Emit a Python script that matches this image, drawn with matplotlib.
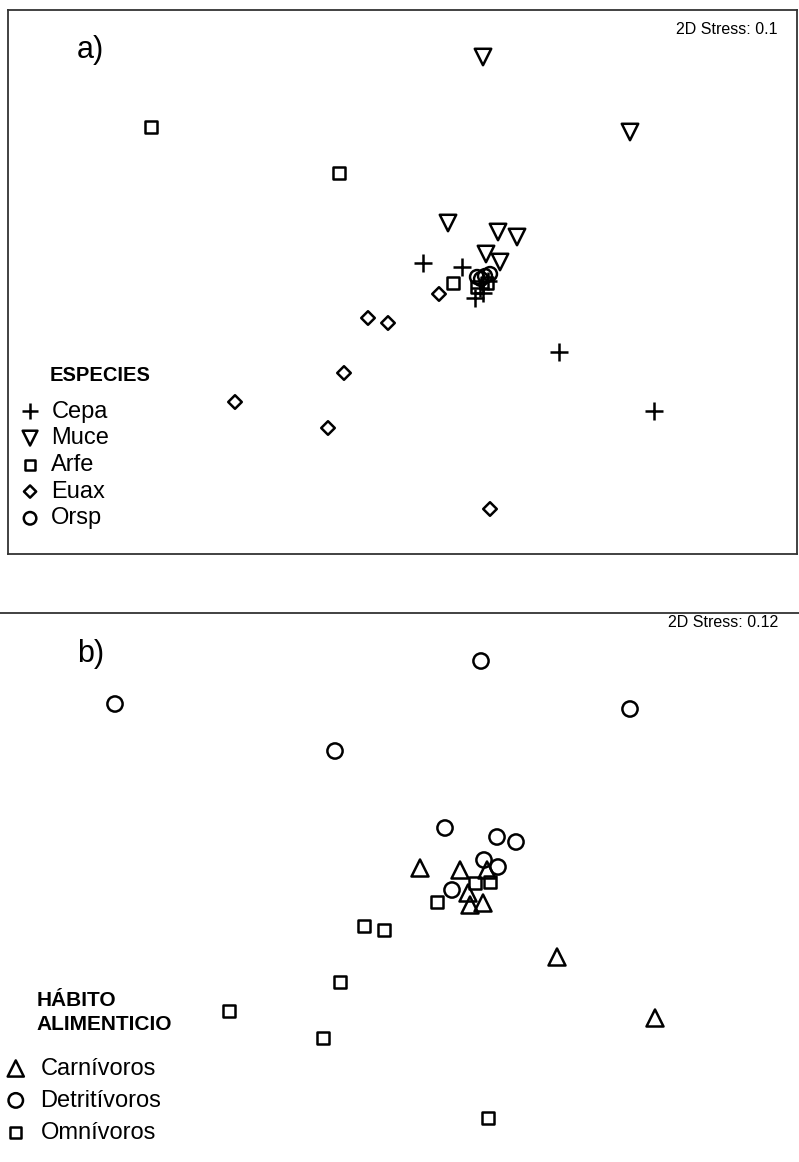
import numpy as np
import matplotlib.pyplot as plt

plt.rcParams['font.family'] = ['Liberation Sans', 'DejaVu Sans']

# a) MDS coordinates by species
cepa_x = [-0.57, -0.18, -0.05, 0.03, 0.00, 0.08, 0.79, 1.74]
cepa_y = [0.27, 0.23, -0.08, -0.03, 0.02, 0.09, -0.62, -1.21]
muce_x = [0.03, 1.50, -0.32, 0.18, 0.37, 0.06, 0.20]
muce_y = [2.33, 1.58, 0.67, 0.58, 0.53, 0.36, 0.28]
arfe_x = [-3.29, -1.41, -0.27, -0.03, 0.07]
arfe_y = [1.63, 1.17, 0.07, 0.03, 0.07]
euax_x = [-0.41, -1.12, -0.92, -1.36, -2.45, -1.52, 0.10]
euax_y = [-0.04, -0.28, -0.33, -0.83, -1.12, -1.38, -2.19]
orsp_x = [-0.03, 0.05, 0.10, 0.01]
orsp_y = [0.13, 0.14, 0.16, 0.11]

# b) MDS coordinates by feeding habit
carn_x = [-0.60, -0.20, 0.07, -0.12, -0.10, 0.03, 0.77, 1.75]
carn_y = [0.27, 0.25, 0.25, 0.02, -0.10, -0.08, -0.62, -1.23]
detr_x = [0.01, -3.65, 1.50, -1.45, -0.35, 0.17, 0.36, 0.04, 0.18, -0.28]
detr_y = [2.34, 1.91, 1.86, 1.44, 0.67, 0.58, 0.53, 0.35, 0.28, 0.05]
omni_x = [-0.05, 0.10, -0.43, -1.16, -0.96, -1.40, -2.51, -1.57, 0.08]
omni_y = [0.12, 0.13, -0.07, -0.31, -0.35, -0.87, -1.16, -1.43, -2.23]

fig = plt.figure(figsize=(7.99, 11.62), dpi=100)
ax1 = fig.add_axes([8/799, 608/1162, 789/799, 544/1162])
ax2 = fig.add_axes([0, 0, 1, 549/1162])

frame = '#333333'
lw = 1.8

def style(ax):
  ax.set_xticks([])
  ax.set_yticks([])
  for s in ax.spines.values():
    s.set_color(frame)
    s.set_linewidth(1.3)

# panel a
style(ax1)
ax1.scatter(cepa_x, cepa_y, marker='+', s=170, c='black', linewidths=lw, label='Cepa')
ax1.scatter(muce_x, muce_y, marker='v', s=140, facecolors='none', edgecolors='black', linewidths=lw, label='Muce')
ax1.scatter(arfe_x, arfe_y, marker='s', s=65, facecolors='none', edgecolors='black', linewidths=lw, label='Arfe')
ax1.scatter(euax_x, euax_y, marker='D', s=48, facecolors='none', edgecolors='black', linewidths=lw, label='Euax')
ax1.scatter(orsp_x, orsp_y, marker='o', s=100, facecolors='none', edgecolors='black', linewidths=lw, label='Orsp')
ax1.set_xlim(-4.72, 3.17)
ax1.set_ylim(-2.64, 2.80)
ax1.text(0.0875, 0.926, 'a)', transform=ax1.transAxes, fontsize=22, va='center')
ax1.text(0.975, 0.965, '2D Stress: 0.1', transform=ax1.transAxes, fontsize=11.5, ha='right', va='center')
ax1.text(0.053, 0.329, 'ESPECIES', transform=ax1.transAxes, fontsize=14.5, fontweight='bold', va='center')
ax1.legend(loc='upper left', bbox_to_anchor=(0.013, 0.282), frameon=False, fontsize=17,
           markerscale=0.9, handlelength=1.0, handletextpad=0.4, labelspacing=0.2,
           borderpad=0, borderaxespad=0)

# panel b
style(ax2)
for k in ['left', 'right', 'bottom']:
  ax2.spines[k].set_visible(False)
ax2.scatter(carn_x, carn_y, marker='^', s=150, facecolors='none', edgecolors='black', linewidths=lw, label='Carnívoros')
ax2.scatter(detr_x, detr_y, marker='o', s=120, facecolors='none', edgecolors='black', linewidths=lw, label='Detritívoros')
ax2.scatter(omni_x, omni_y, marker='s', s=75, facecolors='none', edgecolors='black', linewidths=lw, label='Omnívoros')
ax2.set_xlim(-4.80, 3.19)
ax2.set_ylim(-2.67, 2.82)
ax2.text(0.096, 0.925, 'b)', transform=ax2.transAxes, fontsize=22, va='center')
ax2.text(0.974, 0.982, '2D Stress: 0.12', transform=ax2.transAxes, fontsize=11.5, ha='right', va='center')
ax2.text(0.046, 0.272, 'HÁBITO\nALIMENTICIO', transform=ax2.transAxes, fontsize=15,
         fontweight='bold', va='center', linespacing=1.3)
ax2.legend(loc='upper left', bbox_to_anchor=(0.002, 0.19), frameon=False, fontsize=17,
           markerscale=0.95, handlelength=1.2, handletextpad=0.45, labelspacing=0.42,
           borderpad=0, borderaxespad=0)

plt.savefig('out.png', dpi=100, facecolor='white')
